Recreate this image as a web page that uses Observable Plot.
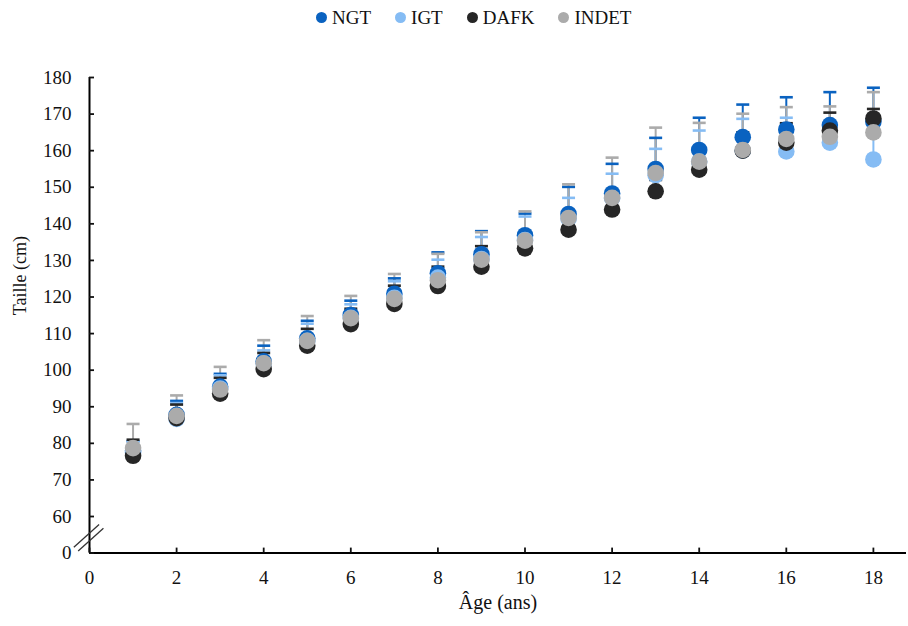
<!DOCTYPE html>
<html><head><meta charset="utf-8">
<script src="https://cdn.jsdelivr.net/npm/d3@7"></script>
<script src="https://cdn.jsdelivr.net/npm/@observablehq/plot@0.6"></script>
<style>
body{margin:0;background:#fff;width:908px;height:626px;overflow:hidden;font-family:"Liberation Serif","Times New Roman",serif;}
#legend{height:35px;display:flex;align-items:center;padding-left:316px;box-sizing:border-box;}
.item{display:flex;align-items:center;margin-right:24px;font-size:19px;color:#111;}
.sw{width:11px;height:11px;border-radius:50%;margin-right:5px;}
#chart svg{display:block;}
#chart svg text{font-family:"Liberation Serif","Times New Roman",serif !important;}
</style></head><body>
<div id="legend"></div><div id="chart"></div>
<script>
const ages = [1,2,3,4,5,6,7,8,9,10,11,12,13,14,15,16,17,18];
const seriesNames = ["NGT","IGT","DAFK","INDET"];
const colors = ["#0a62c0","#85bcf4","#262626","#ababab"];

const ngtMean   = [78.0,87.8,95.5,102.4,108.7,115.1,120.9,126.5,131.7,136.9,142.7,148.3,155.0,160.2,163.7,165.8,167.0,167.9];
const ngtTop    = [80.6,91.6,99.0,106.7,113.5,119.0,125.1,132.2,138.0,142.8,150.1,156.4,163.5,169.0,172.6,174.6,176.0,177.2];
const igtMean   = [77.5,86.7,95.0,101.8,108.0,114.3,119.8,125.3,130.4,135.6,141.4,147.0,153.3,157.0,160.0,159.8,162.2,157.6];
const igtTop    = [80.5,91.0,98.6,105.4,112.7,118.0,124.3,130.2,136.4,142.0,147.1,153.7,160.5,165.5,168.7,169.0,167.5,166.0];
const dafkMean  = [76.6,86.9,93.6,100.3,106.7,112.6,118.1,123.0,128.3,133.3,138.4,143.9,148.9,154.8,160.0,162.2,165.5,168.8];
const dafkTop   = [81.0,90.6,97.9,104.7,111.3,116.8,123.1,128.3,133.9,137.5,142.0,148.0,152.0,158.0,165.0,167.5,170.4,171.4];
const indetMean = [78.7,87.5,94.7,101.9,108.0,114.2,119.5,124.6,130.2,135.4,141.6,147.1,153.9,157.0,160.2,163.2,163.8,165.0];
const indetTop  = [85.3,93.1,100.9,108.2,114.8,120.3,126.3,131.8,137.7,143.4,150.8,158.1,166.3,167.6,170.1,171.9,172.1,176.0];

const xTicks = [0,2,4,6,8,10,12,14,16,18];
const yTicks = [50,60,70,80,90,100,110,120,130,140,150,160,170,180];
const yTickLabels = ["0","60","70","80","90","100","110","120","130","140","150","160","170","180"];

const means = [ngtMean, igtMean, dafkMean, indetMean];
const tops = [ngtTop, igtTop, dafkTop, indetTop];
const rows = [];
seriesNames.forEach((s, si) => ages.forEach((a, i) => rows.push({series: s, age: a, mean: means[si][i], top: tops[si][i]})));

// legend
const leg = document.getElementById("legend");
seriesNames.forEach((s, i) => {
  const it = document.createElement("div"); it.className = "item";
  const sw = document.createElement("span"); sw.className = "sw"; sw.style.background = colors[i];
  const tx = document.createElement("span"); tx.textContent = s;
  it.appendChild(sw); it.appendChild(tx); leg.appendChild(it);
});

const capSymbol = {draw(context) { context.moveTo(-6.5, 0); context.lineTo(6.5, 0); }};
const breakMarks = [{x1: -0.36, y1: 51.6, x2: 0.22, y2: 57.8}, {x1: -0.26, y1: 50.6, x2: 0.32, y2: 56.8}];

const font = "'Liberation Serif', 'Times New Roman', serif";
const chart = Plot.plot({
  width: 908, height: 591,
  marginLeft: 89, marginRight: 2, marginTop: 42, marginBottom: 73.4,
  style: {fontFamily: font, fontSize: "19px", color: "#111", background: "#fff"},
  x: {domain: [0, 18.76]},
  y: {domain: [50, 180]},
  color: {domain: seriesNames, range: colors},
  marks: [
    Plot.ruleX(rows, {x: "age", y1: "mean", y2: "top", stroke: "series", strokeWidth: 2}),
    Plot.dot(rows, {x: "age", y: "top", symbol: capSymbol, stroke: "series", strokeWidth: 2.6, r: 5}),
    Plot.dot(rows, {x: "age", y: "mean", fill: "series", r: 8.3}),
    Plot.ruleX([0], {y1: 50, y2: 180, stroke: "#000", strokeWidth: 2}),
    Plot.ruleY([50], {x1: 0, x2: 18.76, stroke: "#000", strokeWidth: 2}),
    Plot.link(breakMarks, {x1: "x1", y1: "y1", x2: "x2", y2: "y2", stroke: "#333", strokeWidth: 1.3}),
    Plot.axisY(yTicks, {anchor: "left", tickSize: -5, tickPadding: 23, strokeWidth: 1.8, tickFormat: (d, i) => yTickLabels[i], label: null, fontSize: 19, fontFamily: font}),
    Plot.axisX(xTicks, {anchor: "bottom", tickSize: -5, tickPadding: 22, strokeWidth: 1.8, label: null, fontSize: 19, fontFamily: font}),
    Plot.text(["Taille (cm)"], {frameAnchor: "left", dx: -69, rotate: -90, fontSize: 18, fontFamily: font, fill: "#111"}),
    Plot.text(["Âge (ans)"], {frameAnchor: "bottom", dy: 56, fontSize: 20, fontFamily: font, fill: "#111"})
  ]
});
document.getElementById("chart").appendChild(chart);
</script>
</body></html>
